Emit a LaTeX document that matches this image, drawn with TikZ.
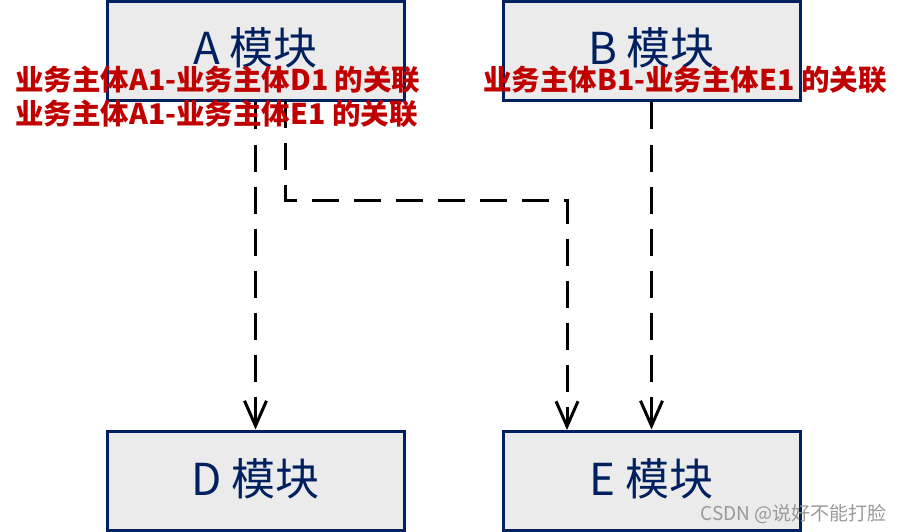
\documentclass[tikz,border=0pt]{standalone}
\usepackage{fontspec}
\setmainfont{Noto Sans CJK SC}
\usetikzlibrary{arrows.meta}
\definecolor{navy}{RGB}{0,32,96}
\definecolor{boxfill}{RGB}{235,235,235}
\definecolor{labred}{RGB}{192,0,0}
\tikzset{
  modbox/.style={draw=navy, line width=3pt, fill=boxfill, minimum width=297pt, minimum height=99pt, inner sep=0pt},
  modtext/.style={text=navy, font=\fontsize{44}{48}\selectfont, inner sep=0pt},
  reltext/.style={text=labred, font=\bfseries\fontsize{28.5}{32}\selectfont, inner sep=0pt},
  link/.style={line width=3pt, dash pattern=on 27pt off 15pt, -{Straight Barb[length=25pt,width=22pt,line width=3pt]}},
  wmark/.style={text=black!40, font=\fontsize{19}{21}\selectfont, inner sep=0pt, anchor=east}
}
\begin{document}
\begin{tikzpicture}[x=1pt,y=-1pt]
\useasboundingbox (0,0) rectangle (899,532);
\node[modbox] (boxA) at (255.5,51.5) {};
\node[modbox] (boxB) at (651.5,51.5) {};
\node[modbox] (boxD) at (255.5,480.5) {};
\node[modbox] (boxE) at (651.5,480.5) {};
\node[modtext] (tA) at (255.5,48) {A 模块};
\node[modtext] (tB) at (651.5,48) {B 模块};
\node[modtext] (tD) at (255.5,479) {D 模块};
\node[modtext] (tE) at (651.5,479) {E 模块};
\coordinate (c1) at (285,101);
\coordinate (c2) at (285,200);
\coordinate (c3) at (567,200);
\coordinate (c4) at (567,430);
\draw[link] (boxA.south) -- (boxD.north);
\draw[link] (c1) -- (c2) -- (c3) -- (c4);
\draw[link] (boxB.south) -- (boxE.north);
\node[reltext, anchor=west] (r1) at (15,80) {业务主体A1-业务主体D1 的关联};
\node[reltext, anchor=west] (r2) at (15,114) {业务主体A1-业务主体E1 的关联};
\node[reltext] (r3) at (685,80) {业务主体B1-业务主体E1 的关联};
\node[wmark] (wm) at (887,514) {CSDN @说好不能打脸};
\end{tikzpicture}
\end{document}
